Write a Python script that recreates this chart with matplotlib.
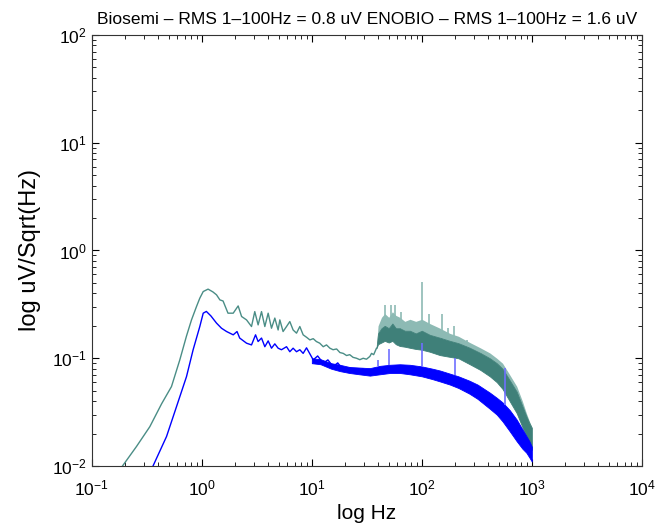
import numpy as np
import matplotlib
matplotlib.use("Agg")
import matplotlib.pyplot as plt

plt.rcParams['font.family'] = ['Liberation Sans', 'DejaVu Sans']
plt.rcParams['mathtext.fontset'] = 'custom'
plt.rcParams['mathtext.rm'] = 'Liberation Sans'
plt.rcParams['mathtext.it'] = 'Liberation Sans:italic'
plt.rcParams['mathtext.default'] = 'regular'

# ENOBIO (teal) - smooth low frequency part
f_eno = [0.19, 0.255, 0.337, 0.431, 0.53, 0.631, 0.726, 0.806, 0.895, 0.959,
         1.03, 1.14, 1.26, 1.36, 1.46, 1.56, 1.73, 1.93, 2.14, 2.30,
         2.55, 2.83, 3.03, 3.25, 3.49, 3.74, 4.01, 4.30, 4.61, 4.94,
         5.12, 5.48, 5.89, 6.31, 6.76, 7.26, 7.78, 8.34, 9.0, 9.6,
         10.3, 11.0, 11.8, 12.7, 13.6, 14.6, 15.6, 16.8, 18.0, 19.3,
         20.7, 22.1, 23.7, 25.5, 27.3, 29.3, 31.4, 33.7, 34.9, 36.5, 38.7]
v_eno = [0.0100, 0.0152, 0.0232, 0.0378, 0.0546, 0.0966, 0.161, 0.227, 0.302, 0.361,
         0.416, 0.438, 0.413, 0.388, 0.348, 0.340, 0.262, 0.262, 0.306, 0.244,
         0.227, 0.197, 0.271, 0.204, 0.271, 0.197, 0.262, 0.190, 0.236, 0.183,
         0.227, 0.177, 0.197, 0.219, 0.183, 0.171, 0.197, 0.165, 0.156, 0.148,
         0.152, 0.143, 0.138, 0.128, 0.133, 0.124, 0.120, 0.122, 0.113, 0.111,
         0.106, 0.108, 0.102, 0.100, 0.097, 0.100, 0.098, 0.104, 0.111, 0.108, 0.124]

# ENOBIO noisy band: outer (light) top, core top, bottom
f_eno_band = [38.7, 40, 43, 46, 50, 54, 58, 63, 70, 78, 88, 100, 118, 146, 180,
              215, 273, 340, 415, 480, 541, 620, 728, 820, 891, 950, 1000]
eno_out = [0.124, 0.20, 0.24, 0.26, 0.24, 0.27, 0.25, 0.24, 0.22, 0.23, 0.22, 0.23, 0.21, 0.19, 0.17,
           0.16, 0.14, 0.125, 0.112, 0.100, 0.090, 0.072, 0.055, 0.040, 0.031, 0.026, 0.023]
eno_hi = [0.124, 0.17, 0.19, 0.20, 0.19, 0.21, 0.19, 0.19, 0.18, 0.18, 0.17, 0.18, 0.165, 0.155, 0.145,
          0.138, 0.125, 0.112, 0.100, 0.090, 0.080, 0.064, 0.049, 0.036, 0.029, 0.025, 0.0226]
eno_lo = [0.124, 0.135, 0.14, 0.145, 0.14, 0.145, 0.135, 0.13, 0.128, 0.125, 0.122, 0.120, 0.115, 0.107, 0.103,
          0.100, 0.088, 0.078, 0.068, 0.060, 0.052, 0.041, 0.031, 0.023, 0.019, 0.016, 0.0141]

# ENOBIO line-noise spikes
f_eno_spk = [46, 53, 57, 65, 100, 116, 154, 173, 197, 230, 260, 303, 349, 401]
v_eno_spk = [0.31, 0.31, 0.31, 0.27, 0.51, 0.26, 0.26, 0.19, 0.20, 0.148, 0.148, 0.124, 0.120, 0.108]

# Biosemi (blue) - smooth low frequency part
f_bio = [0.36, 0.478, 0.589, 0.726, 0.834, 0.959, 1.03, 1.10, 1.21, 1.36,
         1.51, 1.68, 1.93, 2.09, 2.21, 2.55, 2.83, 3.08, 3.25, 3.49,
         3.74, 4.01, 4.30, 4.61, 4.94, 5.30, 5.89, 6.31, 6.76, 7.26,
         7.78, 8.34, 8.95, 10.3, 11.3, 12.7, 14.0, 15.6, 17.2, 19.3,
         22.1, 25.5, 29.1, 33.7]
v_bio = [0.0100, 0.0188, 0.0356, 0.0676, 0.120, 0.197, 0.262, 0.272, 0.247, 0.212,
         0.190, 0.177, 0.165, 0.177, 0.154, 0.138, 0.133, 0.165, 0.143, 0.154,
         0.128, 0.145, 0.124, 0.136, 0.124, 0.120, 0.128, 0.115, 0.124, 0.115,
         0.120, 0.111, 0.125, 0.0966, 0.105, 0.090, 0.0966, 0.0838, 0.0906, 0.078,
         0.0815, 0.0753, 0.0798, 0.0728]

# Biosemi noisy band
f_bio_band = [10, 12, 15, 18, 22, 27, 33.7, 41.5, 51.2, 63.1, 77.8, 100, 125, 146, 180,
              215, 270, 321, 415, 480, 541, 630, 728, 820, 891, 950, 1000]
bio_hi = [0.100, 0.098, 0.090, 0.087, 0.083, 0.082, 0.081, 0.085, 0.087, 0.088, 0.087, 0.084, 0.080, 0.077, 0.072,
          0.068, 0.062, 0.057, 0.048, 0.043, 0.039, 0.033, 0.027, 0.022, 0.019, 0.017, 0.0151]
bio_lo = [0.090, 0.088, 0.080, 0.076, 0.073, 0.071, 0.069, 0.071, 0.073, 0.073, 0.071, 0.068, 0.064, 0.061, 0.057,
          0.053, 0.047, 0.042, 0.034, 0.030, 0.026, 0.021, 0.0170, 0.0145, 0.0133, 0.0120, 0.0110]

# Biosemi spikes
f_bio_spk = [40, 50, 100, 200, 568]
v_bio_spk = [0.0966, 0.122, 0.138, 0.100, 0.0815]

teal = '#4a8d86'
teal_dark = '#3f8079'
teal_light = '#8dbab4'
blue = '#0000ff'

fig = plt.figure(figsize=(6.7, 5.29), dpi=100)
ax = fig.add_axes([0.137, 0.119, 0.821, 0.815])

def level_at(f, fb, vals):
    return 10 ** np.interp(np.log10(f), np.log10(fb), np.log10(vals))

# ENOBIO
ax.plot(f_eno, v_eno, color=teal, lw=1.0, zorder=2)
ax.fill_between(f_eno_band, eno_hi, eno_out, color=teal_light, lw=0, zorder=2)
ax.vlines(f_eno_spk, level_at(f_eno_spk, f_eno_band, eno_hi), v_eno_spk,
          color=teal_light, lw=1.2, zorder=2.1)
ax.fill_between(f_eno_band, eno_lo, eno_hi, color=teal_dark, lw=0.6,
                edgecolor=teal_dark, zorder=2.2)

# Biosemi
ax.plot(f_bio, v_bio, color=blue, lw=1.0, zorder=3)
ax.fill_between(f_bio_band, bio_lo, bio_hi, color=blue, lw=0.6, edgecolor=blue, zorder=3)
ax.vlines(f_bio_spk, level_at(f_bio_spk, f_bio_band, bio_hi), v_bio_spk,
          color='#6f6fff', lw=1.2, zorder=3.1)

ax.set_xscale('log')
ax.set_yscale('log')
ax.set_xlim(1e-1, 1e4)
ax.set_ylim(1e-2, 1e2)

ax.tick_params(which='both', direction='in', top=True, right=True, labelsize=12.5)
ax.tick_params(which='major', length=5, width=0.8)
ax.tick_params(which='minor', length=3, width=0.6)
ax.tick_params(axis='x', which='both', pad=9)
for s in ax.spines.values():
    s.set_linewidth(0.8)
    s.set_color('#333333')
    s.set_zorder(4)

ax.set_xlabel('log Hz', fontsize=15, labelpad=4)
ax.set_ylabel('log uV/Sqrt(Hz)', fontsize=17, labelpad=8)
ax.set_title('Biosemi \u2013 RMS 1\u2013100Hz = 0.8 uV ENOBIO \u2013 RMS 1\u2013100Hz = 1.6 uV',
             fontsize=12.5, pad=8)

fig.savefig('out.png', dpi=100)
